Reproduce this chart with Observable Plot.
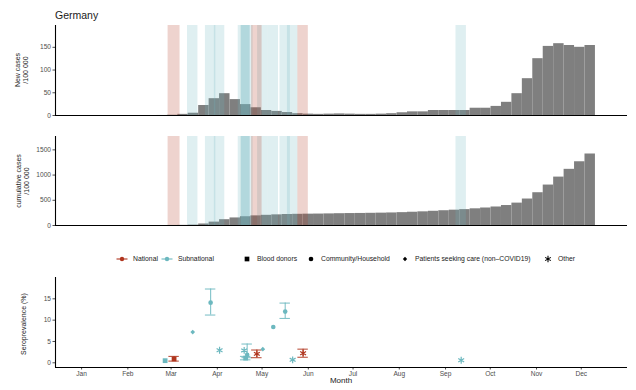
<!DOCTYPE html>
<html>
<head>
<meta charset="utf-8">
<script src="https://cdn.jsdelivr.net/npm/d3@7"></script>
<script src="https://cdn.jsdelivr.net/npm/@observablehq/plot@0.6"></script>
<style>
  body { margin: 0; background: #fff; }
  #wrap { position: relative; width: 636px; height: 390px; overflow: hidden;
          font-family: "Liberation Sans", Arial, sans-serif; color: #1a1a1a; }
  .abs { position: absolute; }
  .ytitle { position: absolute; transform: translate(-50%, -50%) rotate(-90deg);
            white-space: nowrap; text-align: center; font-size: 7px; line-height: 1.15; color: #1a1a1a; }
  .leg { position: absolute; font-size: 6.8px; line-height: 1; color: #1a1a1a; white-space: nowrap; }
</style>
</head>
<body>
<div id="wrap"></div>
<script>
// ---- weekly case counts per 100 000 (week centred on the Monday) ----
const weekDates = ["2020-01-06","2020-01-13","2020-01-20","2020-01-27","2020-02-03","2020-02-10","2020-02-17","2020-02-24",
  "2020-03-02","2020-03-09","2020-03-16","2020-03-23","2020-03-30","2020-04-06","2020-04-13","2020-04-20","2020-04-27",
  "2020-05-04","2020-05-11","2020-05-18","2020-05-25","2020-06-01","2020-06-08","2020-06-15","2020-06-22","2020-06-29",
  "2020-07-06","2020-07-13","2020-07-20","2020-07-27","2020-08-03","2020-08-10","2020-08-17","2020-08-24","2020-08-31",
  "2020-09-07","2020-09-14","2020-09-21","2020-09-28","2020-10-05","2020-10-12","2020-10-19","2020-10-26","2020-11-02",
  "2020-11-09","2020-11-16","2020-11-23","2020-11-30","2020-12-07"];
const newCases = [0,0,0,0,0,0,0,0.1,0.6,2.5,5,22,37,48,35,24,17,11,9,6.5,4,3,2.5,3,3.5,3,2.5,2.5,3,
  4,6,8,8,11,11,11,11,16,16,20,29,48,81,125,152,158,154,150,154];
const cumCases = [0,0,0,0,0,0,0,0,1,3,8,30,67,115,150,174,191,202,211,218,222,225,227,230,234,237,239,242,245,
  249,255,263,271,282,293,304,315,331,347,367,396,444,525,650,802,960,1114,1264,1418];

// ---- seroprevalence studies ----
const studyStart = ["2020-02-26","2020-02-28","2020-03-12","2020-03-24","2020-03-30","2020-04-15","2020-04-17","2020-04-17",
  "2020-04-24","2020-04-28","2020-05-05","2020-05-13","2020-05-18","2020-05-25","2020-09-08"];
const studyEnd   = ["2020-02-26","2020-03-07","2020-03-19","2020-03-31","2020-04-06","2020-04-23","2020-04-25","2020-04-23",
  "2020-05-01","2020-05-05","2020-05-12","2020-05-20","2020-05-25","2020-06-01","2020-09-15"];
const studyLevel = ["Subnational","National","Subnational","Subnational","Subnational","Subnational","Subnational","Subnational",
  "National","Subnational","Subnational","Subnational","Subnational","National","Subnational"];
const studyType  = ["Blood donors","Blood donors","Patients seeking care (non\u2013COVID19)","Community/Household","Other","Other",
  "Community/Household","Blood donors","Other","Patients seeking care (non\u2013COVID19)","Community/Household",
  "Community/Household","Other","Other","Other"];
const seroEst  = [0.5, 0.9, 7.2, 14.1, 2.95, 2.9, 1.9, 1.1, 2.1, 3.2, 8.4, 12.0, 0.7, 2.25, 0.6];
const seroLow  = [NaN, 0.4, NaN, 11.2, NaN, NaN, 1.2, 0.7, 1.2, NaN, NaN, 10.4, NaN, 1.3, NaN];
const seroHigh = [NaN, 1.5, NaN, 17.3, NaN, NaN, 4.4, 1.5, 3.0, NaN, NaN, 14.0, NaN, 3.2, NaN];

const levels = ["National", "Subnational"];
const levelColors = ["#b0361f", "#6cb8bf"];
const types = ["Blood donors", "Community/Household", "Patients seeking care (non\u2013COVID19)", "Other"];
const typeSymbols = ["square", "circle", "diamond2", "asterisk"];

const monthStarts = ["2020-01-01","2020-02-01","2020-03-01","2020-04-01","2020-05-01","2020-06-01",
  "2020-07-01","2020-08-01","2020-09-01","2020-10-01","2020-11-01","2020-12-01"];
const monthLabels = ["Jan","Feb","Mar","Apr","May","Jun","Jul","Aug","Sep","Oct","Nov","Dec"];

// ---- derived tables ----
const xDomain = [new Date("2019-12-14T12:00:00Z"), new Date("2021-01-01T00:00:00Z")];
const weeks = weekDates.map((d, i) => {
  const t = new Date(d);
  return {x1: d3.utcHour.offset(t, -84), x2: d3.utcHour.offset(t, 84), n: newCases[i], c: cumCases[i]};
});
const studies = studyStart.map((s, i) => {
  const a = new Date(s), b = new Date(studyEnd[i]);
  const mid = new Date((+a + +b) / 2);
  return {start: a, end: b, mid, level: studyLevel[i], type: studyType[i],
          est: seroEst[i], low: seroLow[i], high: seroHigh[i],
          capL: d3.utcHour.offset(mid, -84), capR: d3.utcHour.offset(mid, 84)};
});
// subnational shading first, national on top
const shading = [...studies.filter(d => d.level === "Subnational"), ...studies.filter(d => d.level === "National")];

const font = "Liberation Sans, Arial, sans-serif";
const baseStyle = {fontFamily: font, fontSize: "6.6px", color: "#4d4d4d", background: "transparent", overflow: "visible"};
const wrap = document.getElementById("wrap");

function place(el, top) {
  el.style.position = "absolute";
  el.style.left = "0px";
  el.style.top = top + "px";
  wrap.appendChild(el);
}

function casePanel(key, yMax, ticks, top, mt) {
  const chart = Plot.plot({
    width: 636, height: 100,
    marginLeft: 55, marginRight: 9, marginTop: mt, marginBottom: 5,
    style: baseStyle,
    x: {type: "utc", domain: xDomain, axis: null},
    y: {domain: [0, yMax], ticks, tickFormat: d3.format("d"), tickSize: 2.5, tickPadding: 2, label: null},
    color: {domain: levels, range: levelColors},
    marks: [
      Plot.rectY(weeks, {x1: "x1", x2: "x2", y: key, fill: "#7f7f7f"}),
      Plot.rect(shading, {x1: "start", x2: "end", fill: "level", fillOpacity: 0.22}),
      Plot.ruleY([0], {stroke: "#000", strokeWidth: 1.1}),
      Plot.ruleX([xDomain[0]], {stroke: "#000", strokeWidth: 1.1})
    ]
  });
  place(chart, top);
}

casePanel("n", 198, [0, 50, 100, 150], 20, 5);
casePanel("c", 1765, [0, 500, 1000, 1500], 130, 6);

// ---- seroprevalence panel ----
const seroY = [-1.1, 20];
const withCI = studies.filter(d => !isNaN(d.low));
const seroMarks = [
  Plot.ruleX(withCI, {x: "mid", y1: "low", y2: "high", stroke: "level", strokeWidth: 1.1, strokeOpacity: 0.85}),
  Plot.ruleY(withCI, {x1: "capL", x2: "capR", y: "low", stroke: "level", strokeWidth: 1.1, strokeOpacity: 0.85}),
  Plot.ruleY(withCI, {x1: "capL", x2: "capR", y: "high", stroke: "level", strokeWidth: 1.1, strokeOpacity: 0.85}),
  Plot.dot(studies.filter(d => d.type === types[0]), {x: "mid", y: "est", fill: "level", symbol: "type", r: 2.7}),
  Plot.dot(studies.filter(d => d.type === types[1]), {x: "mid", y: "est", fill: "level", symbol: "type", r: 2.3}),
  Plot.dot(studies.filter(d => d.type === types[2]), {x: "mid", y: "est", fill: "level", symbol: "type", r: 2.1}),
  Plot.dot(studies.filter(d => d.type === types[3]), {x: "mid", y: "est", stroke: "level", fill: "none", symbol: "type", r: 3.2, strokeWidth: 1.2}),
  Plot.ruleY([seroY[0]], {stroke: "#000", strokeWidth: 1.1}),
  Plot.ruleX([xDomain[0]], {stroke: "#000", strokeWidth: 1.1})
];
const sero = Plot.plot({
  width: 636, height: 120,
  marginLeft: 55, marginRight: 9, marginTop: 7, marginBottom: 23,
  style: baseStyle,
  x: {type: "utc", domain: xDomain, ticks: monthStarts.map(d => new Date(d)),
      tickFormat: d => monthLabels[d.getUTCMonth()], tickSize: 2.5, tickPadding: 1.5, label: null},
  y: {domain: seroY, ticks: [0, 5, 10, 15], tickSize: 2.5, tickPadding: 2, label: null},
  color: {domain: levels, range: levelColors},
  symbol: {domain: types, range: typeSymbols},
  marks: seroMarks
});
place(sero, 270);

// ---- text: title, axis titles ----
function text(cls, html, left, top, extra = {}) {
  const el = document.createElement("div");
  el.className = cls;
  el.innerHTML = html;
  el.style.left = left + "px";
  el.style.top = top + "px";
  Object.assign(el.style, extra);
  wrap.appendChild(el);
  return el;
}
text("abs", "Germany", 55, 10, {fontSize: "10.5px", lineHeight: "1"});
text("ytitle", "New cases<br>/100 000", 22, 70);
text("ytitle", "cumulative cases<br>/100 000", 23, 180.5);
text("ytitle", "Seroprevalence (%)", 24, 324);
text("abs", "Month", 341, 377, {fontSize: "8px", lineHeight: "1", transform: "translateX(-50%)"});

// ---- legend ----
const legY = 259;
function svgIcon(cx, draw) {
  const svg = d3.create("svg").attr("width", 14).attr("height", 10)
    .style("position", "absolute").style("left", (cx - 7) + "px").style("top", (legY - 5) + "px")
    .style("overflow", "visible");
  draw(svg.append("g").attr("transform", "translate(7,5)"));
  wrap.appendChild(svg.node());
}
levels.forEach((l, i) => {
  const cx = [122, 167][i];
  svgIcon(cx, g => {
    g.append("line").attr("x1", -5.5).attr("x2", 5.5).attr("stroke", levelColors[i]).attr("stroke-width", 1.1);
    g.append("circle").attr("r", 2.2).attr("fill", levelColors[i]);
  });
  text("leg", l, cx + 11, legY - 3.5);
});
const symbolPaths = {
  square: d3.symbol(d3.symbolSquare, 22)(),
  circle: d3.symbol(d3.symbolCircle, 17)(),
  diamond2: d3.symbol(d3.symbolDiamond2, 12)(),
  asterisk: d3.symbol(d3.symbolAsterisk, 30)()
};
types.forEach((t, i) => {
  const cx = [247, 311, 405, 548][i];
  const s = typeSymbols[i];
  svgIcon(cx, g => {
    const p = g.append("path").attr("d", symbolPaths[s]);
    if (s === "asterisk") p.attr("fill", "none").attr("stroke", "#000").attr("stroke-width", 1.1);
    else p.attr("fill", "#000");
  });
  text("leg", t, cx + 10, legY - 3.5);
});
</script>
</body>
</html>
